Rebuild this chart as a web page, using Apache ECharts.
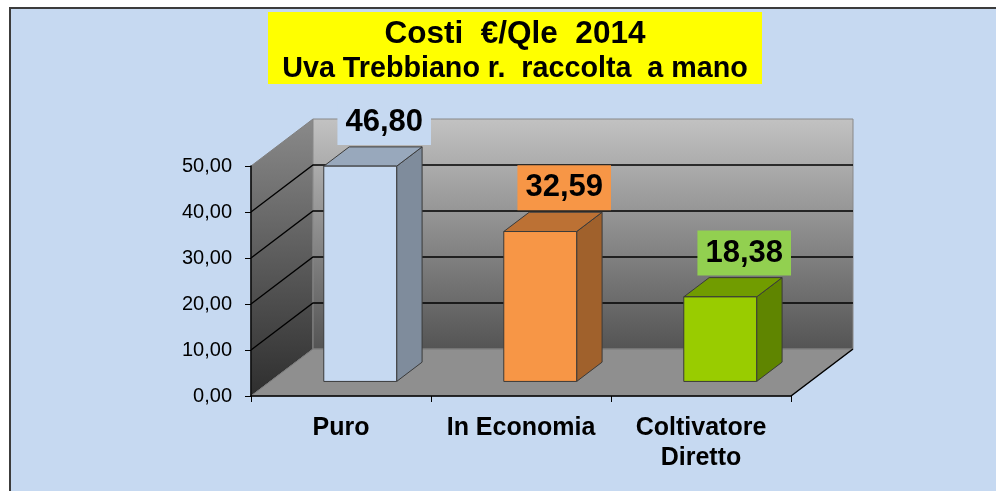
<!DOCTYPE html>
<html>
<head>
<meta charset="utf-8">
<script src="https://cdn.jsdelivr.net/npm/echarts@6/dist/echarts.min.js"></script>
<style>
  html, body { margin: 0; padding: 0; background: #ffffff; }
  #chart { width: 996px; height: 491px; }
</style>
</head>
<body>
<div id="chart"></div>
<script>
const categories = ['Puro', 'In Economia', 'Coltivatore\nDiretto']
const values = [46.80, 32.59, 18.38]
const yTicks = [0, 10, 20, 30, 40, 50]

const FONT = "'Liberation Sans', Arial, sans-serif"
const barFront = ['#C6D9F1', '#F79646', '#99CC00']
const barSide = ['#7F8C9C', '#A0612C', '#5F8500']
const barTop = ['#98A8BC', '#BC7134', '#719C00']
const labelBg = ['#C6D9F1', '#F79646', '#92D050']

// oblique depth of the 3d box (pixels)
const DX = 62
const DY = -47
const F1 = 0.31 // front face of bars, as fraction of the depth
const F2 = 0.72 // back face of bars

const fmt = v => v.toFixed(2).replace('.', ',')

const chart = echarts.init(document.getElementById('chart'))

function renderWalls (params, api) {
  const cs = params.coordSys
  const x0 = cs.x
  const x1 = cs.x + cs.width
  const yTop = api.coord([0, yTicks[yTicks.length - 1]])[1]
  const yBot = api.coord([0, 0])[1]
  return {
    type: 'group',
    children: [
      {
        type: 'polygon',
        shape: { points: [[x0, yTop], [x0 + DX, yTop + DY], [x0 + DX, yBot + DY], [x0, yBot]] },
        style: {
          fill: new echarts.graphic.LinearGradient(0, 0, 0, 1, [
            { offset: 0, color: '#8a8a8a' },
            { offset: 1, color: '#2e2e2e' }
          ]),
          stroke: '#808080',
          lineWidth: 1
        }
      },
      {
        type: 'rect',
        shape: { x: x0 + DX, y: yTop + DY, width: x1 - x0, height: yBot - yTop },
        style: {
          fill: new echarts.graphic.LinearGradient(0, 0, 0, 1, [
            { offset: 0, color: '#c2c2c2' },
            { offset: 1, color: '#545454' }
          ]),
          stroke: '#888888',
          lineWidth: 1
        }
      },
      {
        type: 'polygon',
        shape: { points: [[x0, yBot], [x1, yBot], [x1 + DX, yBot + DY], [x0 + DX, yBot + DY]] },
        style: { fill: '#8f8f8f', stroke: '#7a7a7a', lineWidth: 1 }
      },
      {
        type: 'line',
        shape: { x1: x1, y1: yBot, x2: x1 + DX, y2: yBot + DY },
        style: { stroke: '#000000', lineWidth: 1.5 }
      }
    ]
  }
}

function renderGrid (params, api) {
  const v = api.value(1)
  if (v === 0 || v === yTicks[yTicks.length - 1]) return null
  const cs = params.coordSys
  const x0 = cs.x
  const x1 = cs.x + cs.width
  const y = api.coord([0, v])[1]
  return {
    type: 'polyline',
    shape: { points: [[x0, y], [x0 + DX, y + DY], [x1 + DX, y + DY]] },
    style: { stroke: '#000000', lineWidth: 1.3, fill: null }
  }
}

function renderBar (params, api) {
  const i = api.value(0)
  const c = api.coord([i, 0])
  const t = api.coord([i, api.value(1)])
  const w = api.size([1, 0])[0] * 0.405
  const fx = c[0] + F1 * DX - w / 2
  const by = c[1] + F1 * DY
  const ty = t[1] + F1 * DY
  const ddx = (F2 - F1) * DX
  const ddy = (F2 - F1) * DY
  const edge = { stroke: '#3a3a3a', lineWidth: 1 }
  return {
    type: 'group',
    children: [
      {
        type: 'polygon',
        shape: { points: [[fx + w, ty], [fx + w + ddx, ty + ddy], [fx + w + ddx, by + ddy], [fx + w, by]] },
        style: Object.assign({ fill: barSide[i] }, edge)
      },
      {
        type: 'polygon',
        shape: { points: [[fx, ty], [fx + ddx, ty + ddy], [fx + w + ddx, ty + ddy], [fx + w, ty]] },
        style: Object.assign({ fill: barTop[i] }, edge)
      },
      {
        type: 'rect',
        shape: { x: fx, y: ty, width: w, height: by - ty },
        style: Object.assign({ fill: barFront[i] }, edge)
      },
      {
        type: 'text',
        x: c[0] + F1 * DX + 24,
        y: ty + ddy - 2,
        style: {
          text: fmt(api.value(1)),
          font: 'bold 31px ' + FONT,
          fill: '#000000',
          align: 'center',
          verticalAlign: 'bottom',
          backgroundColor: labelBg[i],
          padding: [7, 8, 7, 8]
        }
      }
    ]
  }
}

chart.setOption({
  animation: false,
  backgroundColor: '#ffffff',
  graphic: [
    {
      type: 'rect',
      z: -10,
      silent: true,
      shape: { x: 10, y: 8, width: 1000, height: 500 },
      style: { fill: '#C6D9F1', stroke: '#3c3c3c', lineWidth: 2 }
    }
  ],
  title: {
    left: 268,
    top: 10,
    padding: [6, 0, 0, 0],
    backgroundColor: '#FFFF00',
    text: '{a|Costi  €/Qle  2014}\n{b|Uva Trebbiano r.  raccolta  a mano}',
    textStyle: {
      rich: {
        a: { fontFamily: FONT, fontSize: 31.5, fontWeight: 'bold', color: '#000', lineHeight: 36, width: 494, align: 'center' },
        b: { fontFamily: FONT, fontSize: 28.7, fontWeight: 'bold', color: '#000', lineHeight: 35, width: 494, align: 'center' }
      }
    }
  },
  grid: {
    left: 251,
    right: 205,
    top: 166,
    bottom: 95
  },
  xAxis: {
    type: 'category',
    data: categories,
    z: 10,
    axisLine: { lineStyle: { color: '#000000', width: 1.5 } },
    axisTick: { show: true, length: 6, lineStyle: { color: '#000000' } },
    axisLabel: {
      interval: 0,
      margin: 17,
      color: '#000000',
      fontFamily: FONT,
      fontSize: 25,
      fontWeight: 'bold',
      lineHeight: 30
    },
    splitLine: { show: false }
  },
  yAxis: {
    type: 'value',
    min: 0,
    max: 50,
    interval: 10,
    z: 10,
    axisLine: { show: true, lineStyle: { color: '#000000', width: 1.5 } },
    axisTick: { show: true, length: 6, lineStyle: { color: '#000000' } },
    axisLabel: {
      margin: 19,
      color: '#000000',
      fontFamily: FONT,
      fontSize: 20,
      formatter: fmt
    },
    splitLine: { show: false }
  },
  series: [
    {
      type: 'custom',
      name: 'walls',
      z: 1,
      silent: true,
      renderItem: renderWalls,
      data: [[0, 0]]
    },
    {
      type: 'custom',
      name: 'grid',
      z: 2,
      silent: true,
      renderItem: renderGrid,
      data: yTicks.map(v => [0, v])
    },
    {
      type: 'custom',
      name: 'costi',
      z: 3,
      renderItem: renderBar,
      data: values.map((v, i) => [i, v])
    }
  ]
})
</script>
</body>
</html>
